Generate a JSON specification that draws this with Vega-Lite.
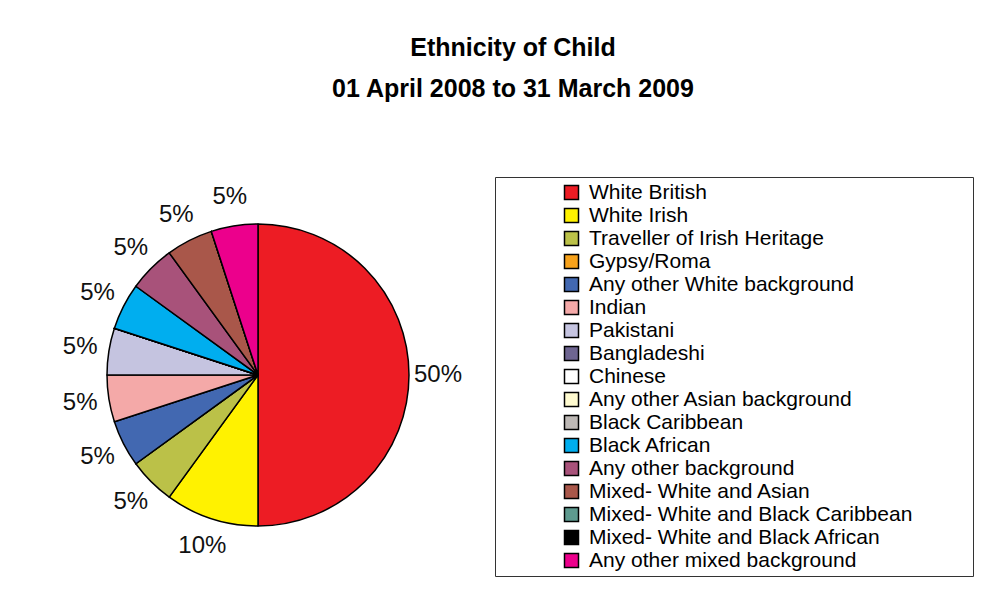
{
  "$schema": "https://vega.github.io/schema/vega-lite/v6.json",
  "autosize": {"type": "none"},
  "width": 516,
  "height": 464,
  "padding": {"left": 0, "top": 143, "right": 481, "bottom": 0},
  "background": "white",
  "title": {
    "text": ["Ethnicity of Child", "01 April 2008 to 31 March 2009"],
    "anchor": "middle",
    "dx": 255,
    "offset": 41,
    "font": "Liberation Sans",
    "fontSize": 25,
    "fontWeight": "bold",
    "lineHeight": 41,
    "color": "black"
  },
  "config": {
    "view": {"stroke": null},
    "font": "Liberation Sans"
  },
  "data": {
    "values": [
      {"idx": 1, "ethnicity": "White British", "share": 0.50},
      {"idx": 2, "ethnicity": "White Irish", "share": 0.10},
      {"idx": 3, "ethnicity": "Traveller of Irish Heritage", "share": 0.05},
      {"idx": 4, "ethnicity": "Gypsy/Roma", "share": 0},
      {"idx": 5, "ethnicity": "Any other White background", "share": 0.05},
      {"idx": 6, "ethnicity": "Indian", "share": 0.05},
      {"idx": 7, "ethnicity": "Pakistani", "share": 0.05},
      {"idx": 8, "ethnicity": "Bangladeshi", "share": 0},
      {"idx": 9, "ethnicity": "Chinese", "share": 0},
      {"idx": 10, "ethnicity": "Any other Asian background", "share": 0},
      {"idx": 11, "ethnicity": "Black Caribbean", "share": 0},
      {"idx": 12, "ethnicity": "Black African", "share": 0.05},
      {"idx": 13, "ethnicity": "Any other background", "share": 0.05},
      {"idx": 14, "ethnicity": "Mixed- White and Asian", "share": 0.05},
      {"idx": 15, "ethnicity": "Mixed- White and Black Caribbean", "share": 0},
      {"idx": 16, "ethnicity": "Mixed- White and Black African", "share": 0},
      {"idx": 17, "ethnicity": "Any other mixed background", "share": 0.05}
    ]
  },
  "encoding": {
    "theta": {"field": "share", "type": "quantitative", "stack": true},
    "order": {"field": "idx", "type": "quantitative"}
  },
  "layer": [
    {
      "mark": {"type": "arc", "radius": 151, "stroke": "black", "strokeWidth": 1.5, "strokeJoin": "round"},
      "encoding": {
        "color": {
          "field": "ethnicity",
          "type": "nominal",
          "scale": {
            "domain": ["White British", "White Irish", "Traveller of Irish Heritage", "Gypsy/Roma", "Any other White background", "Indian", "Pakistani", "Bangladeshi", "Chinese", "Any other Asian background", "Black Caribbean", "Black African", "Any other background", "Mixed- White and Asian", "Mixed- White and Black Caribbean", "Mixed- White and Black African", "Any other mixed background"],
            "range": ["#ED1C24", "#FFF200", "#BBC148", "#F7A21B", "#4268B1", "#F4A9A8", "#C5C4E0", "#6E6591", "#FFFFFF", "#FFFBD0", "#BDB8B5", "#00AEEF", "#A8527A", "#A9574A", "#5E9A8F", "#000000", "#EC008C"]
          },
          "legend": {
            "title": " ",
            "titleOrient": "right",
            "titlePadding": 56,
            "titleFontSize": 10,
            "orient": "none",
            "legendX": 495,
            "legendY": 34,
            "strokeColor": "#333333",
            "fillColor": "white",
            "padding": 5,
            "symbolType": "square",
            "symbolSize": 196,
            "symbolStrokeColor": "black",
            "symbolStrokeWidth": 1.5,
            "symbolOffset": 61,
            "labelFont": "Liberation Sans",
            "labelFontSize": 21,
            "labelColor": "black",
            "labelOffset": 7,
            "labelLimit": 600,
            "rowPadding": 1
          }
        }
      }
    },
    {
      "transform": [{"filter": "datum.share > 0"}],
      "mark": {"type": "text", "radius": 180, "font": "Liberation Sans", "fontSize": 24, "color": "#111111", "align": "center", "baseline": "middle"},
      "encoding": {
        "text": {"field": "share", "type": "quantitative", "format": ".0%"}
      }
    }
  ]
}
